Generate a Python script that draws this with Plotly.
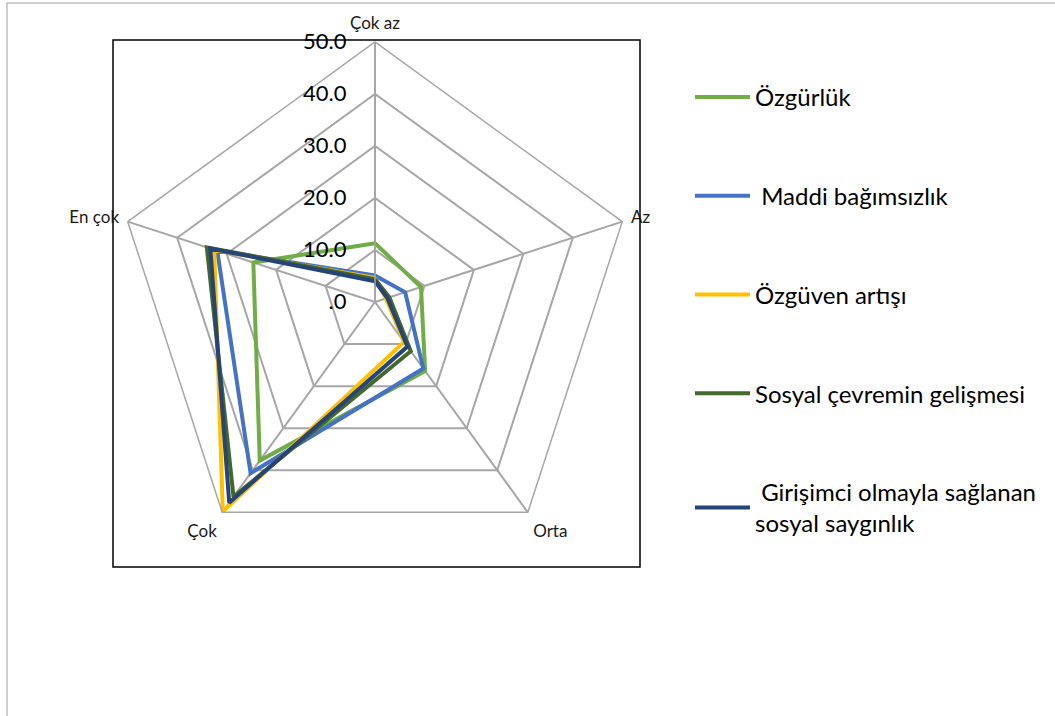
import plotly.graph_objects as go

categories = ["Çok az", "Az", "Orta", "Çok", "En çok"]

ozgurluk = [11.3, 9.3, 16.4, 37.7, 24.6]
maddi = [5.1, 6.1, 15.8, 40.7, 31.9]
ozguven = [4.6, 2.2, 9.5, 49.8, 32.5]
sosyal_cevre = [4.4, 2.9, 11.7, 46.3, 34.0]
sayginlik = [4.0, 2.5, 10.6, 47.7, 33.3]

series_names = [
    "Özgürlük",
    " Maddi bağımsızlık",
    "Özgüven artışı",
    "Sosyal çevremin gelişmesi",
    " Girişimci olmayla sağlanan<br>sosyal saygınlık",
]
series_values = [ozgurluk, maddi, ozguven, sosyal_cevre, sayginlik]
series_colors = ["#70ad47", "#4472c4", "#ffc000", "#43682b", "#264478"]

tick_vals = [0, 10, 20, 30, 40, 50]
tick_text = [".0", "10.0", "20.0", "30.0", "40.0", "50.0"]

W, H = 1055, 716

fig = go.Figure()

for i, (name, vals, col) in enumerate(zip(series_names, series_values, series_colors)):
    fig.add_trace(go.Scatterpolar(
        r=vals + vals[:1],
        theta=categories + categories[:1],
        mode="lines",
        name=name,
        legendgroup=f"g{i}",
        line=dict(color=col, width=4),
        hoverinfo="skip",
    ))

# chart frames (outer gray, inner black)
fig.add_shape(type="rect", xref="paper", yref="paper",
              x0=7 / W, x1=1.01, y0=-0.01, y1=1 - 3 / H,
              line=dict(color="#bfbfbf", width=1.5), layer="below")
fig.add_shape(type="rect", xref="paper", yref="paper",
              x0=113 / W, x1=640 / W, y0=1 - 567 / H, y1=1 - 40 / H,
              line=dict(color="black", width=1.5), layer="below")

cx, cy, R = 375, 302, 260
fig.update_layout(
    width=W, height=H,
    margin=dict(l=0, r=0, t=0, b=0),
    paper_bgcolor="white",
    font=dict(family="Lato, Open Sans, sans-serif", color="#000000"),
    polar=dict(
        domain=dict(x=[(cx - R) / W, (cx + R) / W], y=[1 - (cy + R) / H, 1 - (cy - R) / H]),
        gridshape="linear",
        bgcolor="white",
        radialaxis=dict(
            range=[0, 50], tickvals=tick_vals, ticktext=tick_text,
            angle=90, side="counterclockwise", tickangle=90,
            showline=True, linecolor="#a6a6a6", linewidth=1.5,
            gridcolor="#a6a6a6", gridwidth=1.5,
            ticks="outside", ticklen=20, tickcolor="rgba(0,0,0,0)",
            tickfont=dict(size=22, color="#000000"),
        ),
        angularaxis=dict(
            rotation=90, direction="clockwise",
            showline=True, linecolor="#a6a6a6", linewidth=1.5,
            gridcolor="#a6a6a6", gridwidth=1.5,
            ticks="outside", ticklen=5, tickcolor="rgba(0,0,0,0)",
            tickfont=dict(size=17, color="#1a1a1a"),
        ),
    ),
    legend=dict(
        x=690 / W, y=1 - 75 / H, xanchor="left", yanchor="top",
        font=dict(size=24, color="#000000"),
        itemwidth=55,
        tracegroupgap=64.5, bgcolor="rgba(0,0,0,0)",
    ),
    showlegend=True,
)

fig.write_html("out.html", config={"displayModeBar": False},
               post_script="document.body.style.margin='0';")
